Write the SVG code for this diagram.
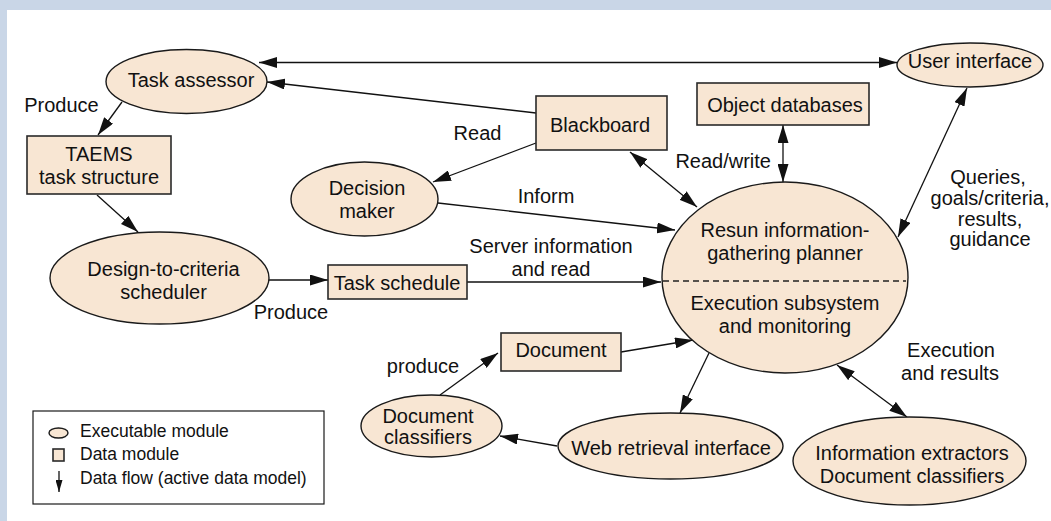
<svg xmlns="http://www.w3.org/2000/svg" width="1051" height="521" viewBox="0 0 1051 521">
<defs>
<style>
.bg{fill:#c9d6e7}
.panel{fill:#ffffff}
.node{fill:#f8e6d3;stroke:#1a1a1a;stroke-width:1.4}
.box{fill:#f8e6d3;stroke:#2a2a2a;stroke-width:1.6}
text{font-family:"Liberation Sans",Arial,sans-serif;font-size:20px;fill:#111}
.c{text-anchor:middle}
.leg{font-size:17.5px}
.conn line{stroke:#111;stroke-width:1.3;fill:none}
.one{marker-end:url(#arr)}
.two{marker-end:url(#arr);marker-start:url(#arr)}
</style>
<marker id="arr" viewBox="0 0 18 11" markerWidth="18" markerHeight="11" refX="18" refY="5.5" markerUnits="userSpaceOnUse" orient="auto-start-reverse">
<path d="M0,0 L18,5.5 L0,11 z" fill="#111"/>
</marker>
<marker id="sarr" viewBox="0 0 12 7" markerWidth="12" markerHeight="7" refX="12" refY="3.5" markerUnits="userSpaceOnUse" orient="auto">
<path d="M0,0 L12,3.5 L0,7 z" fill="#111"/>
</marker>
</defs>
<rect class="bg" x="0" y="0" width="1051" height="521"/>
<rect class="panel" x="7" y="10" width="1044" height="511"/>

<g id="connectors" class="conn">
<line class="two" x1="259" y1="62.5" x2="897" y2="62.5"/>
<line class="one" x1="536" y1="113" x2="267" y2="82"/>
<line class="one" x1="536" y1="143" x2="433" y2="182"/>
<line class="two" x1="630" y1="152" x2="697" y2="207"/>
<line class="two" x1="783" y1="125" x2="783" y2="182"/>
<line class="two" x1="898" y1="237" x2="967" y2="88"/>
<line class="one" x1="438" y1="203" x2="675" y2="230"/>
<line class="one" x1="269" y1="280" x2="328" y2="280"/>
<line class="one" x1="467" y1="282" x2="661" y2="282"/>
<line class="one" x1="122" y1="102" x2="98" y2="135"/>
<line class="one" x1="97" y1="195" x2="138" y2="232"/>
<line class="one" x1="621" y1="352" x2="693" y2="340"/>
<line class="one" x1="440" y1="395" x2="498" y2="353"/>
<line class="one" x1="709" y1="353" x2="680" y2="413"/>
<line class="one" x1="557" y1="446" x2="500" y2="436"/>
<line class="two" x1="837" y1="365" x2="907" y2="417"/>
</g>

<g id="task-assessor">
<ellipse class="node" cx="186.5" cy="81.5" rx="80.5" ry="32"/>
<text class="c" x="191" y="87">Task assessor</text>
</g>
<g id="user-interface">
<ellipse class="node" cx="970" cy="65" rx="73" ry="22"/>
<text class="c" x="970" y="68">User interface</text>
</g>
<g id="taems">
<rect class="box" x="27" y="136" width="144" height="58"/>
<text class="c" x="99" y="161">TAEMS</text>
<text class="c" x="99" y="184">task structure</text>
</g>
<g id="blackboard">
<rect class="box" x="536" y="96" width="131" height="54"/>
<text class="c" x="600" y="132">Blackboard</text>
</g>
<g id="object-databases">
<rect class="box" x="697" y="83" width="172" height="42"/>
<text class="c" x="785" y="112">Object databases</text>
</g>
<g id="decision-maker">
<ellipse class="node" cx="364.5" cy="199" rx="73.5" ry="37"/>
<text class="c" x="367" y="195">Decision</text>
<text class="c" x="367" y="218">maker</text>
</g>
<g id="design-to-criteria">
<ellipse class="node" cx="159.5" cy="278" rx="109.5" ry="46"/>
<text class="c" x="163.5" y="276">Design-to-criteria</text>
<text class="c" x="163.5" y="299">scheduler</text>
</g>
<g id="task-schedule">
<rect class="box" x="328" y="265" width="139" height="34"/>
<text class="c" x="397" y="290">Task schedule</text>
</g>
<g id="planner">
<ellipse class="node" cx="785" cy="277.5" rx="123" ry="95.5"/>
<line x1="663" y1="281" x2="906" y2="281" stroke="#222" stroke-width="1.3" stroke-dasharray="6,4"/>
<text class="c" x="785" y="237">Resun information-</text>
<text class="c" x="785" y="260">gathering planner</text>
<text class="c" x="785" y="310">Execution subsystem</text>
<text class="c" x="785" y="333">and monitoring</text>
</g>
<g id="document">
<rect class="box" x="501" y="333" width="120" height="38"/>
<text class="c" x="561" y="357">Document</text>
</g>
<g id="document-classifiers">
<ellipse class="node" cx="431.5" cy="426" rx="70.5" ry="31"/>
<text class="c" x="428" y="423">Document</text>
<text class="c" x="428" y="444">classifiers</text>
</g>
<g id="web-retrieval">
<ellipse class="node" cx="670.5" cy="446" rx="112.5" ry="33"/>
<text class="c" x="671" y="455">Web retrieval interface</text>
</g>
<g id="info-extractors">
<ellipse class="node" cx="909.5" cy="461" rx="116.5" ry="44"/>
<text class="c" x="912" y="460">Information extractors</text>
<text class="c" x="912" y="483">Document classifiers</text>
</g>

<g id="labels">
<text class="c" x="61.5" y="112">Produce</text>
<text class="c" x="477.5" y="140">Read</text>
<text class="c" x="546" y="203">Inform</text>
<text x="771" y="168" text-anchor="end">Read/write</text>
<text class="c" x="988" y="184">Queries,</text>
<text class="c" x="990" y="205">goals/criteria,</text>
<text class="c" x="990" y="226">results,</text>
<text class="c" x="990" y="246">guidance</text>
<text class="c" x="551" y="253">Server information</text>
<text class="c" x="551" y="276">and read</text>
<text class="c" x="291" y="319">Produce</text>
<text class="c" x="951" y="357">Execution</text>
<text class="c" x="950" y="380">and results</text>
<text class="c" x="423" y="373">produce</text>
</g>

<g id="legend">
<rect x="33" y="411" width="291" height="93" fill="#ffffff" stroke="#1a1a1a" stroke-width="1.2"/>
<ellipse class="node" cx="58.5" cy="433" rx="9.5" ry="5" stroke-width="1.2"/>
<text class="leg" x="80" y="437">Executable module</text>
<rect class="box" x="53" y="449" width="11" height="12" stroke-width="1.2"/>
<text class="leg" x="80" y="460">Data module</text>
<line x1="59" y1="471" x2="59" y2="492" stroke="#111" stroke-width="1.3" marker-end="url(#sarr)"/>
<text class="leg" x="80" y="484">Data flow (active data model)</text>
</g>
</svg>
